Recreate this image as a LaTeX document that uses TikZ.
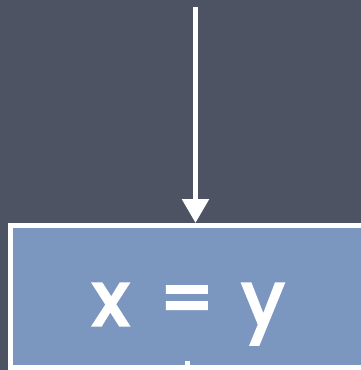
\documentclass[tikz,border=0pt]{standalone}
\usepackage{fontspec}
\setmainfont{Poppins}
\usetikzlibrary{arrows.meta}
\font\eqfont="Poppins:embolden=4" at 75pt
\definecolor{bgslate}{RGB}{77,83,99}
\definecolor{boxblue}{RGB}{124,151,191}
\tikzset{
  conn/.style={draw=white, line width=5.5pt},
  eqbox/.style={rectangle, draw=white, line width=5pt, fill=boxblue,
    minimum width=352.5pt, minimum height=141.5pt, inner sep=0pt},
  eqtext/.style={text=white, inner sep=0pt, anchor=base, font=\eqfont}
}
\begin{document}
\begin{tikzpicture}[x=1pt, y=-1pt]
  \fill[bgslate] (0,0) rectangle (361,370);
  \useasboundingbox (0,0) rectangle (361,370);
  \node[eqbox] (box) at (186.75,296.25) {};
  \node[eqtext] (eq) at (188.5,325) {x\hspace{31pt}=\hspace{28pt}y};
  \coordinate (top) at (195.5,7);
  \coordinate (below) at (187.5,372);
  \draw[conn, -{Triangle[width=26pt,length=24pt]}] (top) -- (top |- box.north);
  \draw[conn] (below |- box.south) ++(0,-9) -- (below);
\end{tikzpicture}
\end{document}
